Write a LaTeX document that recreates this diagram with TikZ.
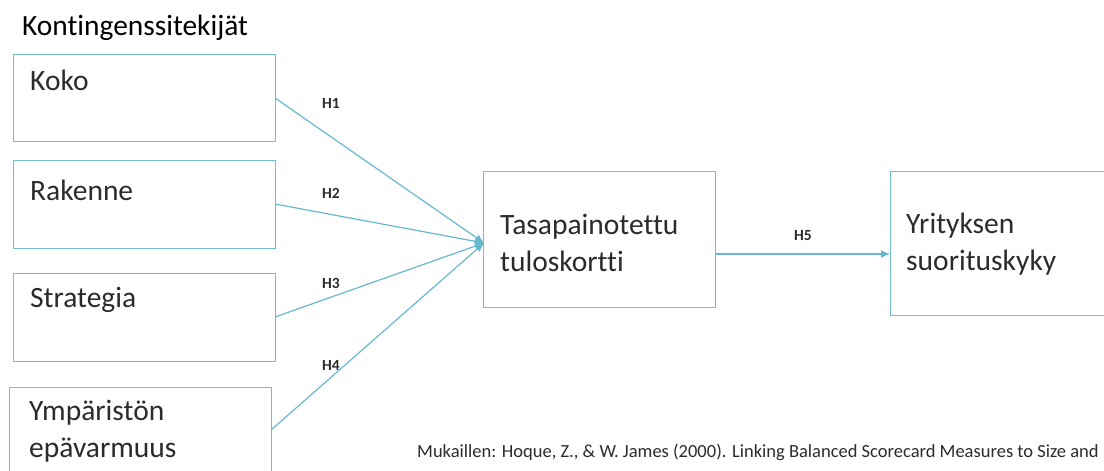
\documentclass[tikz,border=0pt]{standalone}
\usepackage{fontspec}
\setmainfont[Ligatures=NoCommon]{Carlito}
\usetikzlibrary{arrows.meta}
\definecolor{teal}{HTML}{4BACC6}
\definecolor{boxc}{HTML}{6EC0D2}
\definecolor{txt}{HTML}{2B2B2B}
\tikzset{
  box/.style={draw=boxc, line width=1.3pt, minimum width=#1, inner sep=0pt, anchor=north west},
  boxtext/.style={anchor=west, inner sep=0pt, text=txt, font=\fontsize{29.5}{37}\selectfont, align=left},
  hlab/.style={inner sep=0pt, text=txt, font=\fontsize{15.5}{18}\selectfont\bfseries},
  link/.style={draw=teal!85, line width=1.2pt, -{Latex[length=9pt,width=8pt]}},
}
\begin{document}
\begin{tikzpicture}[x=1pt,y=-1pt]
\useasboundingbox (0,0) rectangle (1104,471);
\clip (0,0) rectangle (1104,471);
\node[anchor=west, inner sep=0pt, text=black, font=\fontsize{29.4}{32}\selectfont] (title) at (22,28) {Kontingenssitekijät};
% boxes
\node[box=262pt, minimum height=87pt] (b1) at (13,54) {};
\node[box=262pt, minimum height=88pt] (b2) at (13,160) {};
\node[box=262pt, minimum height=88pt] (b3) at (13,273) {};
\node[box=262pt, minimum height=100pt] (b4) at (9,387) {};
\node[box=232pt, minimum height=136pt] (b5) at (483,171) {};
\node[box=240pt, minimum height=144pt] (b6) at (890,171) {};
% texts
\node[boxtext] (t1) at (30,80) {Koko};
\node[boxtext] (t2) at (30,190) {Rakenne};
\node[boxtext] (t3) at (30,300) {Strategia};
\node[boxtext] (t4) at (29,431) {Ympäristön\\epävarmuus};
\node[boxtext] (t5) at (500,243) {Tasapainotettu\\tuloskortti};
\node[boxtext] (t6) at (906,244) {Yrityksen\\suorituskyky};
% connection points
\coordinate (hub) at (484,243);
\coordinate (s1) at (275,98);
\coordinate (s2) at (275,204);
\coordinate (s3) at (275,317);
\coordinate (s4) at (271,430);
\draw[link] (s1) -- (hub);
\draw[link] (s2) -- (hub);
\draw[link] (s3) -- (hub);
\draw[link] (s4) -- (hub);
\draw[link] (b5.east |- 0,254) -- (b6.west |- 0,254);
% labels
\node[hlab] (h1) at (331,103) {H1};
\node[hlab] (h2) at (331,193) {H2};
\node[hlab] (h3) at (331,283) {H3};
\node[hlab] (h4) at (331,365) {H4};
\node[hlab] (h5) at (803,236) {H5};
\node[anchor=west, inner sep=0pt, text=txt, font=\fontsize{18.5}{22}\selectfont] (ref) at (417,452) {Mukaillen: Hoque, Z., \& W. James (2000). Linking Balanced Scorecard Measures to Size and};
\end{tikzpicture}
\end{document}
